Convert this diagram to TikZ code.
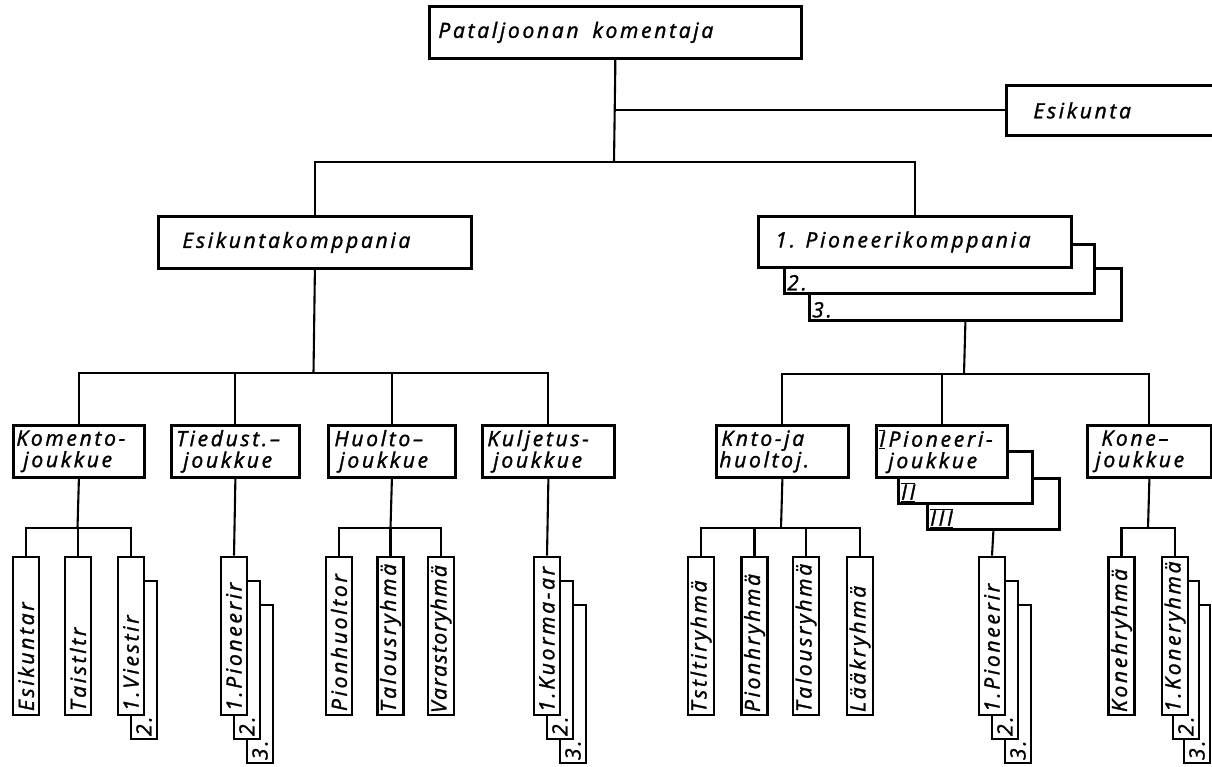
\documentclass[tikz,border=0pt]{standalone}
\usepackage{fontspec}
\setmainfont{Open Sans}[LetterSpace=13, FakeBold=1.5]
\newcommand\lett{\itshape\fontsize{21}{21.5}\selectfont}
\newcommand\tightls{\addfontfeatures{LetterSpace=7}}
\newcommand\rnum[1]{\ensuremath{\overline{\underline{\hbox{#1}}}}}
\tikzset{
  box/.style={draw=black, line width=2.8pt, fill=white, inner xsep=0pt, inner ysep=0pt, align=left, font=\lett},
  hb/.style 2 args={box, anchor=north west, minimum width=#1, text width=#1, minimum height=#2},
  vb/.style={box, rotate=90, minimum width=158pt, text width=158pt, minimum height=26pt},
  conn/.style={line width=2.1pt},
  lbl/.style={inner sep=0pt, font=\lett},
}
\begin{document}
\begin{tikzpicture}[x=1pt,y=-1pt]
\useasboundingbox[fill=white] (0,0) rectangle (1212,767);
% level 1
\node[hb={372pt}{52pt}] (top) at (428,5) {\hspace*{9pt}Pataljoonan\ \ komentaja};
\node[hb={215pt}{50pt}] (esk) at (1005,84) {\hspace*{27pt}Esikunta};
% level 2
\node[hb={313pt}{52pt}] (ekk) at (157,215) {\hspace*{24pt}Esikuntakomppania};
\node[hb={312pt}{52pt}] (pk3) at (808,267) {};
\node[hb={310pt}{49pt}] (pk2) at (783,243) {};
\node[hb={313pt}{51pt}] (pk1) at (757,215) {\hspace*{17pt}1. Pioneerikomppania};
\node[lbl, anchor=south west, xshift=4pt, yshift=4pt] (pk2l) at (pk2.south west) {2.};
\node[lbl, anchor=south west, xshift=4pt, yshift=4pt] (pk3l) at (pk3.south west) {3.};
% level 3
\node[hb={131pt}{52pt}] (kom) at (12,424) {\hspace*{3pt}Komento-\\\hspace*{10pt}joukkue};
\node[hb={128pt}{52pt}] (tie) at (170,424) {\hspace*{5pt}Tiedust.–\\\hspace*{12pt}joukkue};
\node[hb={127pt}{52pt}] (huo) at (327,424) {\hspace*{6pt}Huolto–\\\hspace*{11pt}joukkue};
\node[hb={132pt}{52pt}] (kul) at (481,424) {\hspace*{5pt}Kuljetus-\\\hspace*{11pt}joukkue};
\node[hb={132pt}{52pt}] (knt) at (715,424) {\hspace*{5pt}Knto-ja\\\hspace*{3pt}huoltoj.};
\node[hb={132pt}{51pt}] (ip3) at (926,477) {};
\node[hb={134pt}{52pt}] (ip2) at (897,450) {};
\node[hb={131pt}{52pt}] (ip1) at (875,424) {\hspace*{3pt}\rnum{I}\,Pioneeri-\\\hspace*{12pt}joukkue};
\node[lbl, anchor=south west, xshift=4pt, yshift=3pt] (ip2l) at (ip2.south west) {\rnum{II}};
\node[lbl, anchor=south west, xshift=4pt, yshift=3pt] (ip3l) at (ip3.south west) {\rnum{III}};
\node[hb={124pt}{52pt}] (kon) at (1086,424) {\hspace*{14pt}Kone–\\\hspace*{8pt}joukkue};
% level 4 left
\node[vb] (esr) at (26,636) {\hspace*{4pt}Esikuntar};
\node[vb] (tai) at (78,636) {\hspace*{4pt}Taistltr};
\node[vb] (vi2) at (144,660) {\hspace*{3pt}2.};
\node[vb] (vi1) at (131,636) {\hspace*{4pt}1.Viestir};
\node[vb] (tp3) at (260,684) {\hspace*{3pt}3.};
\node[vb] (tp2) at (247,660) {\hspace*{3pt}2.};
\node[vb] (tp1) at (234,636) {\hspace*{4pt}1.Pioneerir};
\node[vb] (phu) at (339,636) {\hspace*{4pt}Pionhuoltor};
\node[vb] (tal) at (390.5,636) {\hspace*{3pt}Talousryhmä};
\node[vb] (var) at (441,636) {\hspace*{2pt}\tightls Varastoryhmä};
\node[vb] (ku3) at (573,684) {\hspace*{3pt}3.};
\node[vb] (ku2) at (560,660) {\hspace*{3pt}2.};
\node[vb] (ku1) at (547,636) {\hspace*{3pt}1.Kuorma-ar};
% level 4 right
\node[vb] (tst) at (701,636) {\hspace*{3pt}Tstltiryhmä};
\node[vb] (pio) at (754.5,636) {\hspace*{3pt}Pionhryhmä};
\node[vb] (tlr) at (806,636) {\hspace*{3pt}Talousryhmä};
\node[vb] (laa) at (860,636) {\hspace*{3pt}Lääkryhmä};
\node[vb] (rp3) at (1018,684) {\hspace*{3pt}3.};
\node[vb] (rp2) at (1005,660) {\hspace*{3pt}2.};
\node[vb] (rp1) at (992,636) {\hspace*{3pt}1.Pioneerir};
\node[vb] (knh) at (1121.5,636) {\hspace*{3pt}Konehryhmä};
\node[vb] (kr3) at (1197,684) {\hspace*{3pt}3.};
\node[vb] (kr2) at (1186,660) {\hspace*{3pt}2.};
\node[vb] (kr1) at (1175,636) {\hspace*{3pt}1.Koneryhmä};
% connectors
\coordinate (j0) at (614,162);
\draw[conn] (top.south) |- (esk.west);
\draw[conn] (top.south) -- (j0);
\draw[conn] (ekk.north) |- (j0) -| (pk1.north);
\coordinate (jl) at (313.5,373);
\draw[conn] (ekk.south) -- (jl);
\draw[conn] (kom.north) |- (jl) -| (kul.north);
\draw[conn] (tie.north) -- (tie.north |- jl);
\draw[conn] (huo.north) -- (huo.north |- jl);
\coordinate (jr) at (964,374);
\draw[conn] (pk3.south) -- (jr);
\draw[conn] (knt.north) |- (jr) -| (kon.north);
\draw[conn] (ip1.north) -- (ip1.north |- jr);
\coordinate (jk1) at (77.5,528);
\draw[conn] (kom.south) -- (jk1);
\draw[conn] (esr.east) |- (jk1) -| (vi1.east);
\draw[conn] (tai.east) -- (tai.east |- jk1);
\draw[conn] (tie.south) -- (tp1.east);
\coordinate (jh) at (390.5,528);
\draw[conn] (huo.south) -- (jh);
\draw[conn] (phu.east) |- (jh) -| (var.east);
\draw[conn] (tal.east) -- (tal.east |- jh);
\draw[conn] (kul.south) -- (ku1.east);
\coordinate (jn) at (781,528);
\draw[conn] (knt.south) -- (jn);
\draw[conn] (tst.east) |- (jn) -| (laa.east);
\draw[conn] (pio.east) -- (pio.east |- jn);
\draw[conn] (tlr.east) -- (tlr.east |- jn);
\draw[conn] (ip3.south) -- (rp1.east);
\coordinate (jk) at (1148,528);
\draw[conn] (kon.south) -- (jk);
\draw[conn] (knh.east) |- (jk) -| (kr1.east);
\end{tikzpicture}
\end{document}
